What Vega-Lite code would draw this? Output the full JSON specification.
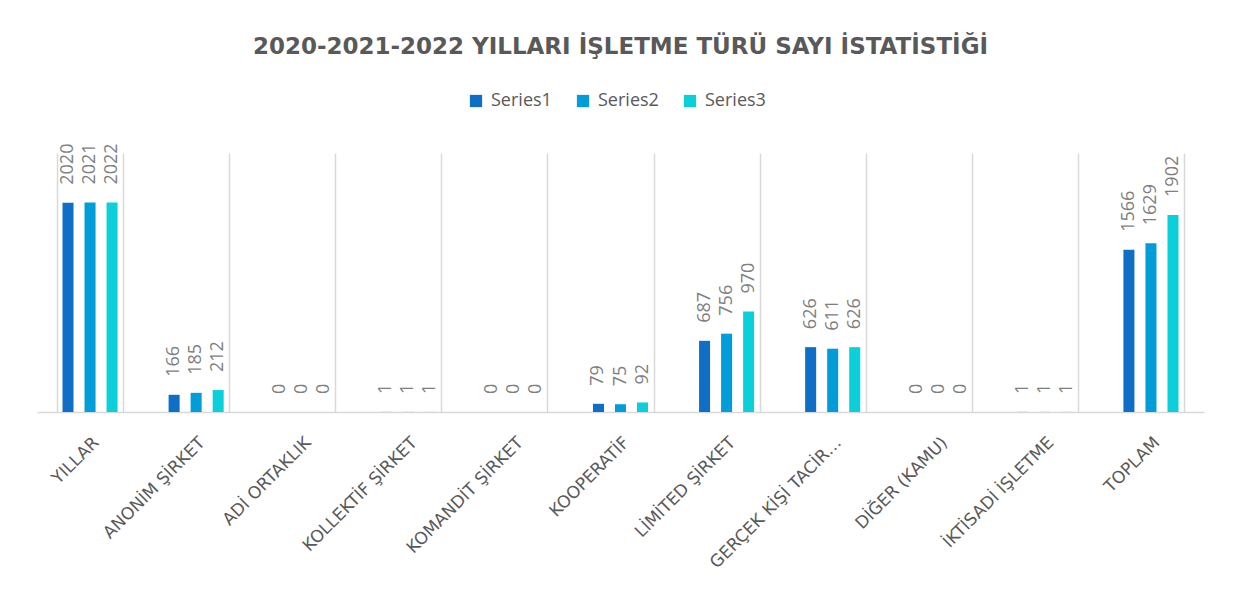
{
  "$schema": "https://vega.github.io/schema/vega-lite/v6.json",
  "width": 1167,
  "height": 259,
  "autosize": {"type": "none"},
  "padding": {"left": 37, "top": 153, "right": 29, "bottom": 203},
  "background": "white",
  "title": {
    "text": "2020-2021-2022 YILLARI İŞLETME TÜRÜ SAYI İSTATİSTİĞİ",
    "font": "DejaVu Sans",
    "fontSize": 23,
    "fontWeight": "bold",
    "color": "#595959",
    "anchor": "middle",
    "frame": "group",
    "offset": 33
  },
  "data": {
    "values": [
      {"category": "YILLAR", "series": "Series1", "value": 2020},
      {"category": "YILLAR", "series": "Series2", "value": 2021},
      {"category": "YILLAR", "series": "Series3", "value": 2022},
      {"category": "ANONİM ŞİRKET", "series": "Series1", "value": 166},
      {"category": "ANONİM ŞİRKET", "series": "Series2", "value": 185},
      {"category": "ANONİM ŞİRKET", "series": "Series3", "value": 212},
      {"category": "ADİ ORTAKLIK", "series": "Series1", "value": 0},
      {"category": "ADİ ORTAKLIK", "series": "Series2", "value": 0},
      {"category": "ADİ ORTAKLIK", "series": "Series3", "value": 0},
      {"category": "KOLLEKTİF ŞİRKET", "series": "Series1", "value": 1},
      {"category": "KOLLEKTİF ŞİRKET", "series": "Series2", "value": 1},
      {"category": "KOLLEKTİF ŞİRKET", "series": "Series3", "value": 1},
      {"category": "KOMANDİT ŞİRKET", "series": "Series1", "value": 0},
      {"category": "KOMANDİT ŞİRKET", "series": "Series2", "value": 0},
      {"category": "KOMANDİT ŞİRKET", "series": "Series3", "value": 0},
      {"category": "KOOPERATİF", "series": "Series1", "value": 79},
      {"category": "KOOPERATİF", "series": "Series2", "value": 75},
      {"category": "KOOPERATİF", "series": "Series3", "value": 92},
      {"category": "LİMİTED ŞİRKET", "series": "Series1", "value": 687},
      {"category": "LİMİTED ŞİRKET", "series": "Series2", "value": 756},
      {"category": "LİMİTED ŞİRKET", "series": "Series3", "value": 970},
      {"category": "GERÇEK KİŞİ TACİR…", "series": "Series1", "value": 626},
      {"category": "GERÇEK KİŞİ TACİR…", "series": "Series2", "value": 611},
      {"category": "GERÇEK KİŞİ TACİR…", "series": "Series3", "value": 626},
      {"category": "DİĞER (KAMU)", "series": "Series1", "value": 0},
      {"category": "DİĞER (KAMU)", "series": "Series2", "value": 0},
      {"category": "DİĞER (KAMU)", "series": "Series3", "value": 0},
      {"category": "İKTİSADİ İŞLETME", "series": "Series1", "value": 1},
      {"category": "İKTİSADİ İŞLETME", "series": "Series2", "value": 1},
      {"category": "İKTİSADİ İŞLETME", "series": "Series3", "value": 1},
      {"category": "TOPLAM", "series": "Series1", "value": 1566},
      {"category": "TOPLAM", "series": "Series2", "value": 1629},
      {"category": "TOPLAM", "series": "Series3", "value": 1902}
    ]
  },
  "encoding": {
    "x": {
      "field": "category",
      "type": "nominal",
      "sort": null,
      "scale": {"paddingInner": 0.377, "paddingOuter": 0.1885},
      "axis": {
        "title": null,
        "labelAngle": -45,
        "labelFont": "DejaVu Sans",
        "labelFontSize": 17,
        "labelColor": "#595959",
        "labelPadding": 22,
        "labelLimit": 0,
        "ticks": false,
        "domainColor": "#d9d9d9",
        "domainWidth": 1.5,
        "grid": true,
        "gridColor": "#d9d9d9",
        "gridWidth": 1.5,
        "tickBand": "extent"
      }
    },
    "xOffset": {
      "field": "series",
      "type": "nominal",
      "scale": {"paddingInner": 0.5, "paddingOuter": 0.25}
    },
    "y": {
      "field": "value",
      "type": "quantitative",
      "scale": {"domain": [0, 2500]},
      "axis": null
    }
  },
  "layer": [
    {
      "mark": {"type": "bar"},
      "encoding": {
        "color": {
          "field": "series",
          "type": "nominal",
          "scale": {"domain": ["Series1", "Series2", "Series3"], "range": ["#0f6fc6", "#009dd9", "#0bd0d9"]},
          "legend": {
            "title": null,
            "orient": "none",
            "legendX": 430,
            "legendY": -61,
            "direction": "horizontal",
            "labelFont": "Open Sans",
            "labelFontSize": 18,
            "labelColor": "#595959",
            "labelOffset": 6,
            "symbolType": "square",
            "symbolSize": 150,
            "symbolStrokeWidth": 0,
            "columnPadding": 22
          }
        }
      }
    },
    {
      "mark": {
        "type": "text",
        "angle": 270,
        "align": "left",
        "baseline": "middle",
        "dx": 18,
        "font": "Open Sans",
        "fontSize": 18,
        "color": "#7f7f7f"
      },
      "encoding": {
        "text": {"field": "value", "type": "quantitative", "format": "d"}
      }
    }
  ],
  "config": {"view": {"stroke": null}}
}
